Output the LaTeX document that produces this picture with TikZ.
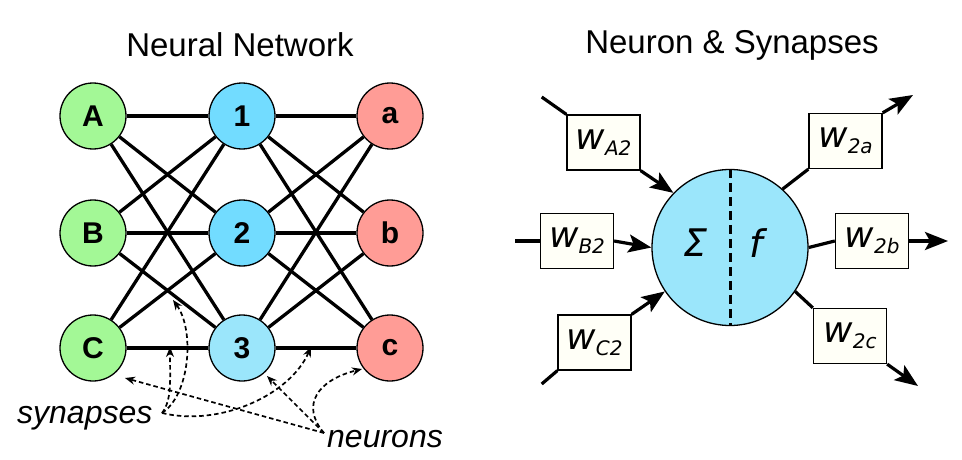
\documentclass[tikz,border=0pt]{standalone}
\usepackage{fontspec}
\setmainfont{DejaVu Sans}
\newfontfamily\arialf{Liberation Sans}
\usetikzlibrary{arrows.meta}
\definecolor{ingreen}{HTML}{A3F896}
\definecolor{hidblue}{HTML}{72DCFF}
\definecolor{hidblueL}{HTML}{9BE6FB}
\definecolor{outred}{HTML}{FF9C96}
\definecolor{boxfill}{HTML}{FFFFF7}
\newcommand\wlab[2]{{\fontsize{36}{40}\selectfont\textit{w}}\raisebox{-6pt}{\fontsize{20}{22}\selectfont\textit{#1}}}
\begin{document}
\begin{tikzpicture}[x=1pt,y=-1pt,
  neuron/.style={circle,draw=black,line width=1.3pt,minimum size=66pt,inner sep=0pt,
    font=\arialf\bfseries\fontsize{30}{31}\selectfont},
  edge/.style={line width=3.3pt},
  wbox/.style={draw=black,line width=1.3pt,fill=boxfill,minimum width=73pt,minimum height=55pt,inner sep=0pt},
  conn/.style={line width=3.2pt},
  arr/.style={line width=3.2pt,-{Stealth[length=23pt,width=18pt,inset=5pt]}},
  dasharr/.style={line width=1.7pt,dash pattern=on 4.5pt off 3pt,-{Stealth[length=10pt,width=8pt]}},
  title/.style={font=\arialf\fontsize{33}{36}\selectfont},
  note/.style={font=\arialf\itshape\fontsize{32}{34}\selectfont,inner sep=0pt}
]
\useasboundingbox (0,0) rectangle (962,460);
\fill[white] (0,0) rectangle (962,460);

% titles
\node[title] (t1) at (240,45) {Neural Network};
\node[title] (t2) at (732,45) {Neuron \& Synapses};

% network nodes
\node[neuron,fill=ingreen] (A) at (93,116) {A};
\node[neuron,fill=ingreen] (B) at (93,233) {B};
\node[neuron,fill=ingreen] (C) at (93,348) {C};
\node[neuron,fill=hidblue] (h1) at (242,116) {1};
\node[neuron,fill=hidblue] (h2) at (242,233) {2};
\node[neuron,fill=hidblueL] (h3) at (242,348) {3};
\node[neuron,fill=outred] (a) at (390,116) {a};
\node[neuron,fill=outred] (b) at (390,233) {b};
\node[neuron,fill=outred] (c) at (390,348) {c};

\foreach \i in {A,B,C}{\foreach \j in {h1,h2,h3}{\draw[edge] (\i) -- (\j);}}
\foreach \i in {h1,h2,h3}{\foreach \j in {a,b,c}{\draw[edge] (\i) -- (\j);}}

% annotations
\node[note,anchor=base west] (syn) at (17,423) {synapses};
\node[note,anchor=base west] (neu) at (327,447) {neurons};
\coordinate (s0) at (162,413);
\coordinate (n0) at (324,433);
\coordinate (st1) at (170,347);
\coordinate (st2) at (173,300);
\coordinate (st3) at (311,347);
\draw[dasharr] (s0) .. controls (172,400) and (170,380) .. (st1);
\draw[dasharr] (s0) .. controls (190,395) and (195,330) .. (st2);
\draw[dasharr] (s0) .. controls (220,427) and (290,395) .. (st3);
\coordinate (nt1) at (125,378);
\coordinate (nt2) at (267,376);
\coordinate (nt3) at (362,369);
\draw[dasharr] (n0) -- (nt1);
\draw[dasharr] (n0) -- (nt2);
\draw[dasharr] (n0) .. controls (300,405) and (318,380) .. (nt3);

% neuron & synapses
\node[circle,draw=black,line width=1.3pt,fill=hidblueL,minimum size=156pt,inner sep=0pt] (N) at (730,247.5) {};
\draw[line width=3pt,dash pattern=on 9pt off 5pt] (N.north) -- (N.south);
\node[font=\fontsize{38}{40}\selectfont\itshape] (sig) at (695,243) {Σ};
\node[font=\fontsize{38}{40}\selectfont\itshape] (ff) at (756,243) {f};

\node[wbox] (wA2) at (603.5,142.5) {\wlab{A2}{}};
\node[wbox] (wB2) at (577,241) {\wlab{B2}{}};
\node[wbox] (wC2) at (594.5,342.5) {\wlab{C2}{}};
\node[wbox] (w2a) at (845.5,141) {\wlab{2a}{}};
\node[wbox] (w2b) at (872,241) {\wlab{2b}{}};
\node[wbox] (w2c) at (850,336) {\wlab{2c}{}};

\coordinate (iA) at (541.7,97);
\coordinate (iB) at (515,241);
\coordinate (iC) at (541.7,384);
\coordinate (oa) at (913,95);
\coordinate (ob) at (948,241);
\coordinate (oc) at (918,386);

\draw[conn] (iA) -- (wA2.north west);
\draw[arr] (wA2.south east) -- (N.136);
\draw[conn] (iB) -- (wB2.west);
\draw[arr] (wB2.east) -- (N.180);
\draw[conn] (iC) -- (wC2.south west);
\draw[arr] (wC2.north east) -- (N.214);

\draw[conn] (N.48) -- (w2a.south west);
\draw[arr] (w2a.north east) -- (oa);
\draw[conn] (N.east) -- (w2b.west);
\draw[arr] (w2b.east) -- (ob);
\draw[conn] (N.326) -- (w2c.north west);
\draw[arr] (w2c.south east) -- (oc);
\end{tikzpicture}
\end{document}
